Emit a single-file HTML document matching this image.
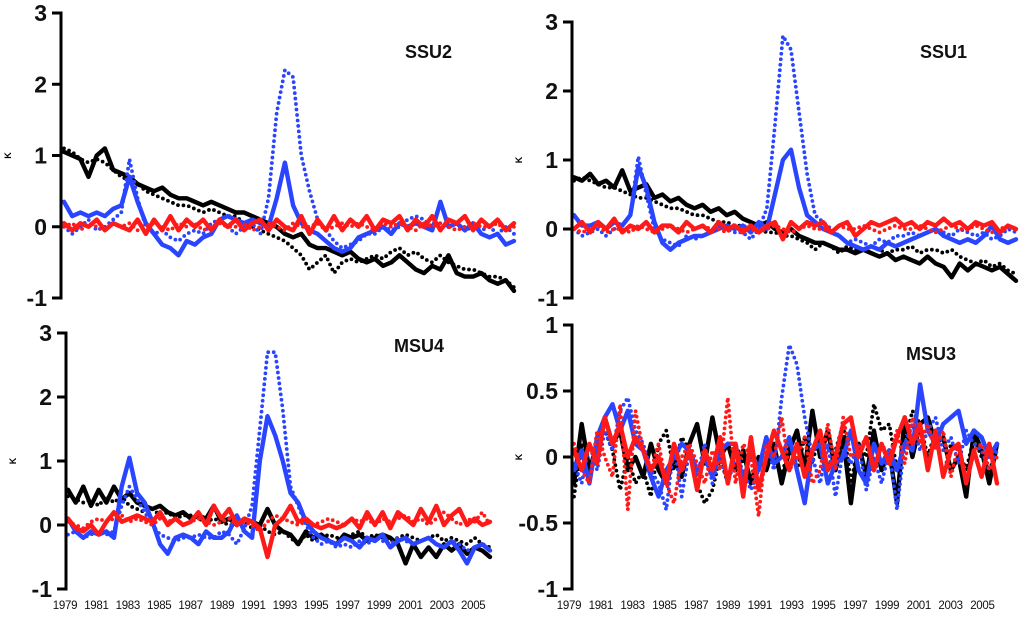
<!DOCTYPE html>
<html><head><meta charset="utf-8">
<style>
html,body{margin:0;padding:0;background:#fff;}
svg{display:block;font-family:"Liberation Sans",sans-serif;}
</style></head>
<body>
<svg id="chart" width="1024" height="617" viewBox="0 0 1024 617"></svg>
<script>
// ---------- data ----------
const startYear = 1979;
const endYear = 2006.7;
const yearTicks = ["1979","1981","1983","1985","1987","1989","1991","1993","1995","1997","1999","2001","2003","2005"];
const ticksBig = [3,2,1,0,-1];
const ticksSmall = [1,0.5,0,-0.5,-1];

// SSU2
const ssu2BlackSolid = [1.05,1.0,0.95,0.7,1.0,1.1,0.8,0.75,0.7,0.6,0.55,0.5,0.55,0.45,0.4,0.4,0.35,0.3,0.35,0.3,0.25,0.2,0.2,0.15,0.1,0.05,0.0,-0.1,-0.15,-0.1,-0.25,-0.3,-0.3,-0.35,-0.4,-0.35,-0.45,-0.5,-0.45,-0.55,-0.5,-0.4,-0.5,-0.6,-0.65,-0.55,-0.6,-0.4,-0.65,-0.7,-0.7,-0.65,-0.75,-0.8,-0.75,-0.9];
const ssu2BlackDot = [1.1,1.05,0.95,0.9,0.95,0.9,0.8,0.7,0.65,0.6,0.5,0.45,0.4,0.35,0.3,0.3,0.25,0.2,0.25,0.2,0.15,0.15,0.05,0.0,-0.05,-0.1,-0.15,-0.2,-0.3,-0.4,-0.6,-0.5,-0.4,-0.65,-0.5,-0.45,-0.5,-0.45,-0.4,-0.45,-0.35,-0.3,-0.4,-0.35,-0.45,-0.5,-0.4,-0.5,-0.55,-0.6,-0.6,-0.65,-0.7,-0.7,-0.75,-0.85];
const ssu2BlueSolid = [0.35,0.15,0.2,0.15,0.2,0.15,0.25,0.3,0.7,0.35,0.05,-0.1,-0.25,-0.3,-0.4,-0.2,-0.25,-0.15,-0.1,0.1,0.15,0.1,0.05,0.1,0.05,0.0,0.4,0.9,0.3,0.05,-0.05,-0.1,-0.2,-0.3,-0.35,-0.3,-0.15,-0.1,-0.05,0.0,-0.1,0.05,0.0,0.05,0.0,-0.05,0.35,0.0,0.05,-0.05,0.05,-0.1,-0.15,-0.1,-0.25,-0.2];
const ssu2BlueDot = [0.0,-0.1,0.0,0.1,-0.05,0.0,0.1,0.2,0.95,0.4,0.0,-0.1,-0.05,-0.15,-0.2,-0.1,-0.05,-0.1,0.05,0.1,0.0,-0.1,0.0,0.05,-0.1,0.4,1.6,2.2,2.1,1.0,0.5,0.1,-0.05,-0.2,-0.3,-0.25,-0.2,-0.1,-0.1,0.0,-0.05,0.0,0.1,0.15,0.1,0.0,0.05,0.0,0.05,-0.05,0.0,-0.05,0.0,-0.1,0.0,-0.1];
const ssu2RedSolid = [0.05,-0.05,0.05,0.0,0.1,-0.05,0.05,0.0,-0.05,0.1,-0.1,0.1,-0.05,0.15,-0.05,0.1,0.0,0.1,-0.05,0.1,0.0,0.1,-0.05,0.05,0.1,-0.05,0.1,0.0,-0.05,0.15,-0.1,0.1,-0.05,0.15,-0.05,0.1,0.0,0.15,-0.05,0.1,0.05,0.15,-0.05,0.1,0.0,0.15,-0.05,0.1,0.05,0.15,-0.05,0.1,0.0,0.1,-0.05,0.05];
const ssu2RedDot = [0.0,0.05,-0.05,0.05,0.0,-0.05,0.05,0.0,0.05,-0.05,0.0,0.05,0.0,-0.05,0.05,0.0,0.05,-0.05,0.0,0.05,0.0,0.0,0.05,-0.05,0.0,0.05,0.0,-0.05,0.05,0.0,0.0,0.05,-0.05,0.0,0.05,0.0,0.05,0.0,-0.05,0.05,0.0,0.05,0.0,-0.05,0.05,0.0,0.05,0.0,-0.05,0.0,0.05,0.0,0.0,0.05,-0.05,0.0];

// SSU1
const ssu1BlackSolid = [0.75,0.7,0.8,0.65,0.7,0.6,0.85,0.55,0.6,0.65,0.45,0.5,0.4,0.45,0.35,0.3,0.35,0.25,0.3,0.2,0.25,0.15,0.1,0.05,0.1,0.0,-0.05,0.0,-0.1,-0.15,-0.2,-0.2,-0.25,-0.3,-0.3,-0.35,-0.3,-0.35,-0.4,-0.35,-0.45,-0.4,-0.45,-0.5,-0.4,-0.5,-0.55,-0.7,-0.5,-0.6,-0.5,-0.55,-0.6,-0.55,-0.65,-0.75];
const ssu1BlackDot = [0.7,0.75,0.7,0.65,0.6,0.6,0.55,0.5,0.45,0.45,0.4,0.35,0.3,0.3,0.25,0.2,0.2,0.15,0.1,0.1,0.05,0.05,0.0,0.0,-0.05,-0.05,-0.1,-0.1,-0.15,-0.2,-0.3,-0.2,-0.25,-0.35,-0.25,-0.3,-0.3,-0.25,-0.3,-0.35,-0.3,-0.3,-0.25,-0.35,-0.3,-0.3,-0.35,-0.3,-0.4,-0.45,-0.5,-0.45,-0.55,-0.5,-0.6,-0.65];
const ssu1BlueSolid = [0.2,0.05,0.05,0.1,0.0,0.1,0.05,0.2,0.9,0.6,0.1,-0.2,-0.3,-0.2,-0.15,-0.1,-0.1,-0.05,0.0,0.05,0.0,0.05,-0.05,0.1,0.0,0.5,1.0,1.15,0.6,0.2,0.1,0.0,-0.05,-0.1,-0.2,-0.25,-0.3,-0.25,-0.3,-0.2,-0.25,-0.2,-0.15,-0.1,-0.05,0.0,-0.1,-0.15,-0.2,-0.15,-0.2,-0.1,0.05,-0.15,-0.2,-0.15];
const ssu1BlueDot = [0.0,-0.1,-0.05,0.0,-0.1,0.0,0.05,0.2,1.05,0.5,0.0,-0.15,-0.2,-0.25,-0.1,-0.15,-0.1,-0.05,0.05,0.0,-0.05,-0.05,-0.15,0.0,0.3,1.5,2.8,2.6,1.7,0.8,0.2,0.1,0.0,-0.1,-0.2,-0.15,-0.2,-0.25,-0.15,-0.2,-0.1,-0.1,-0.05,-0.1,-0.05,0.0,-0.05,-0.1,0.0,-0.05,-0.1,-0.05,-0.15,-0.1,0.0,-0.05];
const ssu1RedSolid = [0.0,0.1,-0.05,0.1,0.0,0.15,-0.05,0.05,0.0,0.1,-0.05,0.05,0.05,-0.05,0.1,0.0,0.05,-0.05,0.1,0.0,0.05,-0.05,0.05,-0.05,0.05,0.1,-0.15,0.1,0.0,0.1,0.05,0.1,-0.05,0.05,0.1,-0.1,0.0,0.1,0.05,0.1,0.15,0.05,0.1,0.0,0.1,0.05,0.15,0.05,0.1,0.0,0.1,0.05,0.1,-0.05,0.05,0.0];
const ssu1RedDot = [0.0,-0.05,0.0,0.05,-0.05,0.0,0.0,-0.05,0.05,0.0,-0.05,0.0,0.05,0.0,-0.05,0.0,0.05,0.0,0.0,-0.05,0.05,0.0,0.0,-0.05,0.0,0.05,0.0,-0.05,0.0,0.05,0.0,0.0,-0.05,0.05,0.0,0.0,0.05,0.0,-0.05,0.0,0.05,0.0,0.0,0.05,0.0,-0.05,0.0,0.05,0.0,0.0,0.05,0.0,-0.05,0.0,0.05,0.0];

// MSU4
const msu4BlackSolid = [0.55,0.35,0.6,0.3,0.55,0.35,0.6,0.4,0.5,0.35,0.3,0.25,0.3,0.2,0.15,0.2,0.1,0.15,0.1,0.3,0.05,0.1,0.0,0.1,0.05,0.0,0.25,0.0,-0.1,-0.15,-0.3,-0.1,-0.2,-0.15,-0.25,-0.3,-0.15,-0.2,-0.15,-0.25,-0.2,-0.15,-0.2,-0.3,-0.6,-0.3,-0.5,-0.35,-0.5,-0.3,-0.4,-0.3,-0.45,-0.35,-0.4,-0.5];
const msu4BlackDot = [0.45,0.4,0.35,0.4,0.3,0.45,0.35,0.45,0.3,0.25,0.2,0.25,0.15,0.2,0.1,0.15,0.15,0.1,0.05,0.1,0.05,0.0,0.0,0.05,-0.05,0.0,-0.1,-0.15,-0.1,-0.2,-0.3,-0.15,-0.25,-0.2,-0.15,-0.2,-0.2,-0.15,-0.1,-0.2,-0.15,-0.2,-0.25,-0.2,-0.15,-0.2,-0.25,-0.2,-0.15,-0.25,-0.2,-0.25,-0.3,-0.2,-0.3,-0.35];
const msu4BlueSolid = [0.1,-0.1,-0.2,-0.1,-0.15,-0.1,-0.2,0.6,1.05,0.5,0.35,0.05,-0.3,-0.45,-0.2,-0.15,-0.2,-0.3,-0.1,-0.2,-0.2,-0.1,0.15,-0.1,-0.2,1.0,1.7,1.4,1.0,0.5,0.35,0.05,-0.1,-0.2,-0.25,-0.3,-0.2,-0.25,-0.35,-0.2,-0.25,-0.15,-0.35,-0.25,-0.2,-0.3,-0.25,-0.2,-0.3,-0.35,-0.25,-0.4,-0.6,-0.35,-0.3,-0.4];
const msu4BlueDot = [-0.15,-0.1,-0.2,-0.15,-0.1,-0.15,-0.1,0.3,0.6,0.4,0.2,0.0,-0.15,-0.2,-0.25,-0.2,-0.2,-0.15,-0.2,-0.2,-0.1,-0.15,-0.3,-0.05,0.3,1.5,2.7,2.7,1.8,0.6,0.3,0.0,-0.2,-0.3,-0.25,-0.35,-0.3,-0.35,-0.25,-0.3,-0.2,-0.25,-0.3,-0.2,-0.25,-0.3,-0.25,-0.2,-0.3,-0.35,-0.25,-0.3,-0.4,-0.35,-0.3,-0.4];
const msu4RedSolid = [0.1,-0.05,-0.1,0.0,-0.15,0.05,0.2,0.05,0.1,0.15,0.1,0.05,0.2,0.0,0.1,0.0,0.05,0.2,0.0,0.3,0.1,0.25,0.0,0.1,0.05,-0.05,-0.5,0.0,0.1,0.3,0.05,0.1,0.0,-0.05,0.0,-0.05,0.0,0.1,-0.05,0.2,0.0,0.2,-0.05,0.2,0.1,0.0,0.25,0.05,0.3,0.0,0.15,0.25,0.0,0.1,0.0,0.05];
const msu4RedDot = [0.05,0.0,-0.05,0.05,0.1,0.05,0.1,0.15,0.05,0.1,0.05,0.0,0.1,0.05,0.1,0.0,0.05,0.1,0.05,0.0,0.05,0.1,0.0,0.05,0.0,-0.1,0.05,0.15,0.1,0.05,0.0,0.05,0.0,0.05,0.1,0.05,0.0,0.1,0.05,0.1,0.0,0.1,0.05,0.1,0.15,0.05,0.1,0.0,0.1,0.2,0.1,0.0,0.1,0.05,0.2,0.0];

// MSU3
const msu3BlackSolid = [-0.2,0.25,-0.1,0.1,0.3,0.1,0.2,-0.1,0.0,-0.15,0.1,-0.1,-0.2,0.0,-0.15,0.1,0.25,-0.05,0.3,0.0,0.1,-0.1,0.05,-0.2,0.0,-0.1,0.1,-0.2,0.05,0.2,-0.1,0.35,0.0,0.2,-0.1,0.15,-0.35,0.1,-0.15,0.2,-0.1,0.05,-0.35,0.3,0.0,0.25,0.3,0.1,0.15,-0.1,0.0,-0.3,0.2,0.05,-0.2,0.1];
const msu3BlackDot = [-0.3,0.1,-0.2,0.15,0.2,0.05,-0.25,0.0,-0.2,-0.1,-0.3,0.1,0.2,-0.1,0.15,0.05,-0.2,-0.35,-0.25,0.0,-0.2,0.1,-0.05,0.0,-0.1,0.15,0.0,-0.15,0.1,-0.1,0.15,-0.05,0.2,-0.1,0.05,0.25,-0.2,0.1,0.0,0.4,0.2,0.25,-0.1,0.1,0.35,0.25,0.0,0.2,-0.15,0.1,0.05,-0.1,0.15,0.0,-0.1,0.05];
const msu3BlueSolid = [-0.1,0.05,-0.2,0.15,0.3,0.4,0.2,0.35,0.1,0.05,-0.15,-0.3,-0.1,0.0,0.1,0.05,-0.1,0.0,-0.15,0.05,0.1,0.1,-0.2,0.05,-0.1,0.15,-0.05,0.0,0.15,-0.1,-0.35,0.05,0.1,-0.2,-0.05,0.0,0.2,-0.1,-0.2,0.1,-0.05,0.05,-0.1,0.1,0.05,0.55,0.2,0.1,0.25,0.3,0.35,0.1,0.2,0.15,0.0,0.1];
const msu3BlueDot = [-0.05,-0.2,0.1,-0.1,0.2,0.05,0.35,0.45,0.2,0.1,-0.1,-0.2,-0.4,0.1,-0.3,0.05,-0.15,0.1,-0.2,0.0,-0.2,0.0,-0.1,-0.25,-0.1,0.1,-0.1,0.45,0.85,0.7,0.3,0.0,-0.2,0.1,-0.3,0.05,-0.05,0.1,-0.25,0.0,-0.2,0.05,-0.4,0.1,0.25,0.05,0.2,0.3,0.05,0.15,-0.05,0.2,0.1,0.05,-0.1,0.05];
const msu3RedSolid = [0.05,-0.1,0.1,-0.05,0.3,0.1,0.25,0.0,0.15,0.05,-0.1,0.0,-0.2,0.1,-0.1,0.05,-0.25,0.05,-0.1,0.15,-0.2,0.1,-0.3,0.15,-0.25,0.0,0.2,0.05,-0.1,0.1,-0.15,0.05,0.2,-0.1,0.0,0.25,0.3,0.0,0.15,-0.1,0.1,-0.05,0.15,0.3,0.1,0.25,-0.1,0.2,-0.15,0.05,0.1,-0.2,0.05,-0.15,0.1,-0.2];
const msu3RedDot = [0.1,-0.1,-0.2,0.2,0.0,-0.15,0.4,-0.4,0.35,0.05,-0.1,0.1,-0.2,-0.35,0.0,0.1,-0.05,-0.2,0.05,-0.1,0.45,-0.2,0.1,0.0,-0.45,0.1,0.0,0.3,-0.1,0.0,0.15,-0.2,-0.1,0.25,-0.1,0.3,0.0,0.05,0.15,-0.1,0.1,0.0,0.2,-0.05,0.3,0.1,0.25,0.05,0.2,-0.15,0.1,-0.2,0.05,0.1,-0.1,0.0];

// ---------- drawing ----------
const NS = "http://www.w3.org/2000/svg";
const svg = document.getElementById("chart");
const BLACK = "#000000", BLUE = "#2a45ff", RED = "#ff1a1a";

function mk(tag, attrs, parent) {
  const e = document.createElementNS(NS, tag);
  for (const k in attrs) e.setAttribute(k, attrs[k]);
  (parent || svg).appendChild(e);
  return e;
}

function drawPanel(p) {
  const g = mk("g", {});
  
  
  const vmin = p.ticks[p.ticks.length - 1], vmax = p.ticks[0];
  const yS = v => p.yBot + (v - vmin) / (vmax - vmin) * (p.yTop - p.yBot);
  const xS = t => p.x0 + (t - startYear) / (endYear - startYear) * (p.x1 - p.x0);

  p.series.forEach(s => {
    const n = s.vals.length;
    let d = "";
    s.vals.forEach((v, i) => {
      const t = startYear + i * (endYear - startYear) / (n - 1);
      d += (i ? "L" : "M") + xS(t).toFixed(1) + " " + yS(v).toFixed(1);
    });
    const path = mk("path", {d: d, fill: "none", stroke: s.color,
      "stroke-width": s.dot ? 3.8 : 4.4, "stroke-linejoin": "round",
      "stroke-linecap": "round", "stroke-dasharray": s.dot ? "0 5.5" : "none"}, g);
    
    
  });

  const ax = mk("line", {x1: p.ax, x2: p.ax, y1: yS(vmax) - 1.5, y2: yS(vmin) + 1.5, stroke: "#000", "stroke-width": 3}, g);
  
  
  p.ticks.forEach(v => {
    const y = yS(v);
    const tk = mk("line", {x1: p.ax - 9, x2: p.ax, y1: y, y2: y, stroke: "#000", "stroke-width": 3}, g);
    
    
    const lb = mk("text", {x: p.ax - 14, y: y + 8, "text-anchor": "end", "font-size": 23, "font-weight": "bold", fill: "#111"}, g);
    lb.textContent = String(v);
    
    
  });
  const ky = yS(p.kAt);
  const kl = mk("text", {x: 0, y: 0, transform: "translate(" + (p.ax - 50) + "," + ky + ") rotate(-90)", "text-anchor": "middle", "font-size": 9, "font-weight": "bold"}, g);
  kl.textContent = "K";
  
  
  const tt = mk("text", {x: p.titleX, y: p.titleY, "font-size": 18, "font-weight": "bold", fill: "#111"}, g);
  tt.textContent = p.title;
  
  
  if (p.lab0) {
    yearTicks.forEach(yr => {
      const x = p.lab0 + (parseInt(yr) - 1979) * p.labStep;
      const tl = mk("text", {x: x, y: 609, "text-anchor": "middle", "font-size": 11.5, fill: "#111", "letter-spacing": "-0.3"}, g);
      tl.textContent = yr;
      
      
    });
  }
}

function ser(bs, bd, us, ud, rs, rd) {
  return [
    {id: "black-dotted", vals: bd, color: BLACK, dot: true},
    {id: "black-solid", vals: bs, color: BLACK, dot: false},
    {id: "blue-dotted", vals: ud, color: BLUE, dot: true},
    {id: "blue-solid", vals: us, color: BLUE, dot: false},
    {id: "red-dotted", vals: rd, color: RED, dot: true},
    {id: "red-solid", vals: rs, color: RED, dot: false}
  ];
}

drawPanel({name: "ssu2", title: "SSU2", titleX: 405, titleY: 58, ax: 61, x0: 64, x1: 514,
  yTop: 13, yBot: 298, ticks: ticksBig, kAt: 1,
  series: ser(ssu2BlackSolid, ssu2BlackDot, ssu2BlueSolid, ssu2BlueDot, ssu2RedSolid, ssu2RedDot)});
drawPanel({name: "ssu1", title: "SSU1", titleX: 920, titleY: 58, ax: 572, x0: 574, x1: 1016,
  yTop: 22, yBot: 298, ticks: ticksBig, kAt: 1,
  series: ser(ssu1BlackSolid, ssu1BlackDot, ssu1BlueSolid, ssu1BlueDot, ssu1RedSolid, ssu1RedDot)});
drawPanel({name: "msu4", title: "MSU4", titleX: 394, titleY: 352, ax: 66, x0: 68, x1: 490,
  yTop: 333, yBot: 589, ticks: ticksBig, kAt: 1, lab0: 65, labStep: 15.7,
  series: ser(msu4BlackSolid, msu4BlackDot, msu4BlueSolid, msu4BlueDot, msu4RedSolid, msu4RedDot)});
drawPanel({name: "msu3", title: "MSU3", titleX: 906, titleY: 360, ax: 572, x0: 574, x1: 997,
  yTop: 325, yBot: 589, ticks: ticksSmall, kAt: 0, lab0: 569, labStep: 15.9,
  series: ser(msu3BlackSolid, msu3BlackDot, msu3BlueSolid, msu3BlueDot, msu3RedSolid, msu3RedDot)});
</script>
</body></html>
